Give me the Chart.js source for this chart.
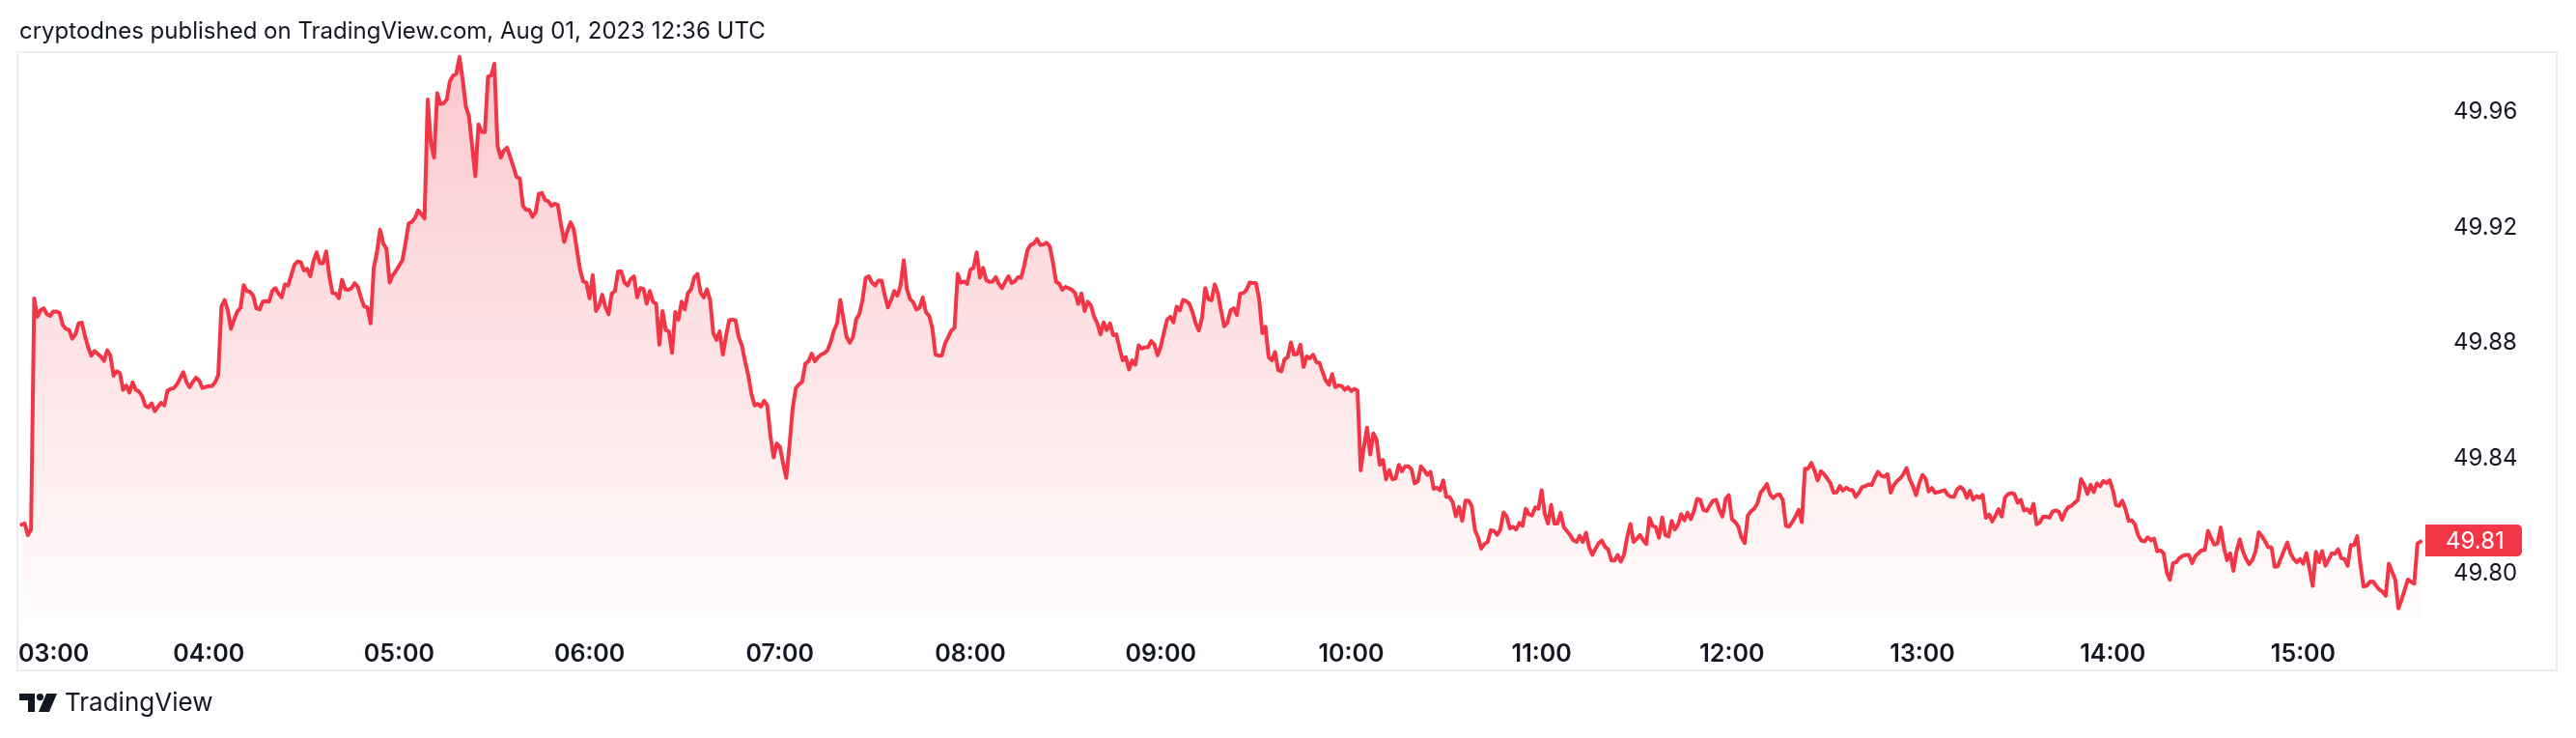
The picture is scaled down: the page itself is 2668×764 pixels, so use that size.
<!DOCTYPE html>
<html>
<head>
<meta charset="utf-8">
<title>TradingView snapshot</title>
<script src="https://cdn.jsdelivr.net/npm/chart.js@4.4.0/dist/chart.umd.min.js"></script>
<style>
    html, body { margin: 0; padding: 0; background: #fff; }
    body { width: 2668px; height: 764px; position: relative; overflow: hidden; font-family: Inter, "Noto Sans", sans-serif; color: #131722; }
    #chart { position: absolute; left: 0; top: 0; }
    #title { position: absolute; left: 20px; top: 20px; font-size: 24px; line-height: 24px; white-space: nowrap; }
    #logo-icon { position: absolute; left: 20px; top: 718px; }
    #logo-text { position: absolute; left: 67px; top: 714px; font-size: 26px; line-height: 26px; }
</style>
</head>
<body>
<canvas id="chart" width="2668" height="764"></canvas>
<div id="title">cryptodnes published on TradingView.com, Aug 01, 2023 12:36 UTC</div>
<svg id="logo-icon" width="39" height="19" viewBox="0 0 39 19">
    <path d="M0 0 H16 V19 H9 V7 H0 Z" fill="#131722"/>
    <circle cx="21.5" cy="3.6" r="3.6" fill="#131722"/>
    <path d="M28 0 H39 L31 19 H20 Z" fill="#131722"/>
</svg>
<div id="logo-text">TradingView</div>
<script>
// time axis: minutes after 03:00, one tick per hour
var hourTicks = [0, 60, 120, 180, 240, 300, 360, 420, 480, 540, 600, 660, 720];
var hourLabels = ['03:00', '04:00', '05:00', '06:00', '07:00', '08:00', '09:00', '10:00', '11:00', '12:00', '13:00', '14:00', '15:00'];
var priceTicks = [49.80, 49.84, 49.88, 49.92, 49.96];

// 1 minute closes
var minutes = [
    1, 2, 3, 4, 5, 6, 7, 8, 9, 10, 11, 12, 13, 14, 15, 16, 17, 18, 19, 20, 21, 22, 23, 24,
    26, 27, 28, 29, 30, 31, 32, 33, 34, 35, 36, 37, 38, 39, 40, 41, 42, 43, 44, 45, 46, 47, 48, 49, 50,
    52, 53, 54, 55, 56, 57, 58, 59, 60, 61, 62, 63, 64, 65, 66, 67, 68, 69, 70, 71,
    72, 73, 74, 75, 76, 77, 78, 79, 80, 81, 82, 83, 84, 85, 86, 87, 88, 89, 90, 91,
    92, 93, 94, 95, 96, 97, 98, 99, 100, 101, 102, 103, 104, 105, 106, 107, 108, 109, 110, 111,
    112, 113, 114, 115, 116, 117, 118, 119,
    121, 122, 123, 124, 125, 126, 127, 128, 129, 130, 131, 132, 133, 134, 135, 136, 137, 138, 139, 140, 141, 142,
    144, 145, 146, 147, 148, 149, 150, 151, 152, 153, 154, 155, 156, 157, 158, 159, 160, 161, 162, 163,
    164, 165, 166, 167, 168, 169, 170, 171, 172, 173, 174, 175, 176, 177, 178, 179, 180, 181, 182, 183,
    184, 185, 186, 187, 188, 189, 190, 191, 192, 193, 194, 195, 196, 197, 198, 199, 200, 201, 202, 203,
    204, 205, 206, 207, 208, 209, 210, 211, 212, 213, 214, 215, 216, 217, 218, 219, 220, 221, 222, 223,
    224, 225, 226, 227, 228, 229, 230, 231, 232, 233, 234, 235, 236, 237, 238, 239, 240, 241, 242, 243,
    244, 245, 246, 247, 248, 249, 250, 251, 252, 253, 254, 255, 256, 257, 258, 259, 260, 261, 262, 263,
    264, 265, 266, 267, 268, 269, 270, 271, 272, 273, 274, 275, 276, 277, 278, 279, 280, 281, 282, 283,
    284, 285, 286, 287, 288, 289, 290, 291, 292, 293, 294, 295, 296, 297, 298, 299, 300, 301, 302, 303,
    304, 305, 306, 307, 308, 309, 310, 311, 312, 313, 314, 315, 316, 317, 318, 319, 320, 321, 322, 323,
    324, 325, 326, 327, 328, 329, 330, 331, 332, 333, 334, 335, 336, 337, 338, 339, 340, 341, 342, 343,
    344, 345, 346, 347, 348, 349, 350, 351, 352, 353, 354, 355, 356, 357, 358, 359, 360, 361, 362, 363,
    364, 365, 366, 367, 368, 369, 370, 371, 372, 373, 374, 375, 376, 377, 378, 379, 380, 381, 382, 383,
    384, 385, 386, 387, 388, 389, 390, 391, 392, 393, 394, 395, 396, 397, 398, 399, 400, 401, 402, 403,
    404, 405, 406, 407, 408, 409, 410, 411, 412, 413, 414, 415, 416, 417, 418, 419, 420, 421, 422, 423,
    424, 425, 426, 427, 428, 429, 430, 431, 432, 433, 434, 435, 436, 437, 438, 439, 440, 441, 442, 443,
    444, 445, 446, 447, 448, 449, 450, 451, 452, 453, 454, 455, 456, 457, 458, 459, 460, 461, 462, 463,
    464, 465, 466, 467, 468, 469, 470, 471, 472, 473, 474, 475, 476, 477, 478, 479, 480, 481, 482, 483,
    484, 485, 486, 487, 488, 489, 490, 491, 492, 493, 494, 495, 496, 497, 498, 499, 500, 501, 502, 503,
    504, 505, 506, 507, 508, 509, 510, 511, 512, 513, 514, 515, 516, 517, 518, 519, 520, 521, 522, 523,
    524, 525, 526, 527, 528, 529, 530, 531, 532, 533, 534, 535, 536, 537, 538, 539, 540, 541, 542, 543,
    544, 545, 546, 547, 548, 549, 550, 551, 552, 553, 554, 555, 556, 557, 558, 559, 560, 561, 562, 563,
    564, 565, 566, 567, 568, 569, 570, 571, 572, 573, 574, 575, 576, 577, 578, 579, 580, 581, 582, 583,
    584, 585, 586, 587, 588, 589, 590, 591, 592, 593, 594, 595, 596, 597, 598, 599, 600, 601, 602, 603,
    604, 605, 606, 607, 608, 609, 610, 611, 612, 613, 614, 615, 616, 617, 618, 619, 620, 621, 622, 623,
    624, 625, 626, 627, 628, 629, 630, 631, 632, 633, 634, 635, 636, 637, 638, 639, 640, 641, 642, 643,
    644, 645, 646, 647, 648, 649, 650, 651, 652, 653, 654, 655, 656, 657, 658, 659, 660, 661, 662, 663,
    664, 665, 666, 667, 668, 669, 670, 671, 672, 673, 674, 675, 676, 677, 678, 679, 680, 681, 682, 683,
    684, 685, 686, 687, 688, 689, 690, 691, 692, 693, 694, 695, 696, 697, 698, 699, 700, 701, 702, 703,
    704, 705, 706, 707, 708, 709, 710, 711, 712, 713, 714, 715, 716, 717, 718, 719, 720, 721, 722, 723,
    724, 725, 726, 727, 728, 729, 730, 731, 732, 733, 734, 735, 736, 737, 738, 739, 740, 741, 742, 743,
    744, 745, 746, 747, 748, 749, 750, 751, 752, 753, 754, 755, 756, 757
];
var prices = [
    49.8171, 49.8175, 49.8135, 49.8154, 49.8954, 49.8891, 49.8913, 49.8920, 49.8900, 49.8894,
    49.8909, 49.8909, 49.8904, 49.8862, 49.8849, 49.8845, 49.8815, 49.8830, 49.8868, 49.8871,
    49.8824, 49.8785, 49.8756, 49.8772,
    49.8753, 49.8738, 49.8775, 49.8757, 49.8687, 49.8702, 49.8696, 49.8638, 49.8653, 49.8628,
    49.8664, 49.8638, 49.8632, 49.8616, 49.8583, 49.8577, 49.8591, 49.8564, 49.8580, 49.8593,
    49.8584, 49.8635, 49.8641, 49.8644, 49.8657,
    49.8699, 49.8664, 49.8647, 49.8666, 49.8680, 49.8670, 49.8644, 49.8648, 49.8651, 49.8651,
    49.8664, 49.8689, 49.8926, 49.8949, 49.8913, 49.8849, 49.8881, 49.8909, 49.8922, 49.9000,
    49.8980, 49.8977, 49.8964, 49.8920, 49.8916, 49.8943, 49.8945, 49.8943, 49.8980, 49.8990,
    49.8971, 49.8958, 49.9003, 49.8999, 49.9035, 49.9071, 49.9082, 49.9080, 49.9051, 49.9057,
    49.9031, 49.9083, 49.9114, 49.9076, 49.9076, 49.9117, 49.9032, 49.8973, 49.8971, 49.8955,
    49.9019, 49.8986, 49.8984, 49.8990, 49.9007, 49.8994, 49.8955, 49.8926, 49.8923, 49.8868,
    49.9060, 49.9114, 49.9192, 49.9144, 49.9127, 49.9009, 49.9035, 49.9050,
    49.9086, 49.9146, 49.9214, 49.9219, 49.9233, 49.9259, 49.9246, 49.9231, 49.9643, 49.9492,
    49.9442, 49.9665, 49.9627, 49.9630, 49.9643, 49.9707, 49.9726, 49.9732, 49.9790, 49.9713,
    49.9620, 49.9585,
    49.9377, 49.9557, 49.9531, 49.9530, 49.9722, 49.9726, 49.9767, 49.9483, 49.9442, 49.9466,
    49.9476, 49.9444, 49.9410, 49.9374, 49.9370, 49.9275, 49.9261, 49.9261, 49.9237, 49.9252,
    49.9316, 49.9319, 49.9295, 49.9291, 49.9275, 49.9282, 49.9278, 49.9210, 49.9150, 49.9188,
    49.9218, 49.9195, 49.9124, 49.9054, 49.9013, 49.9009, 49.8955, 49.9035, 49.8911, 49.8930,
    49.8967, 49.8924, 49.8900, 49.8971, 49.8980, 49.9048, 49.9048, 49.9009, 49.8999, 49.9022,
    49.9031, 49.8958, 49.8990, 49.8987, 49.8936, 49.8980, 49.8943, 49.8935, 49.8794, 49.8911,
    49.8845, 49.8840, 49.8766, 49.8907,
    49.8881, 49.8943, 49.8917, 49.8973, 49.8986, 49.9028, 49.9039, 49.8973, 49.8958, 49.8986,
    49.8948, 49.8833, 49.8811, 49.8840, 49.8760, 49.8824, 49.8879, 49.8881, 49.8879, 49.8820,
    49.8792, 49.8737, 49.8689, 49.8625, 49.8584, 49.8589, 49.8580, 49.8600, 49.8584, 49.8478,
    49.8404, 49.8452, 49.8440, 49.8382, 49.8333, 49.8446, 49.8574, 49.8644, 49.8657, 49.8666,
    49.8728, 49.8737, 49.8763, 49.8737, 49.8751, 49.8760, 49.8765, 49.8775, 49.8804, 49.8843,
    49.8868, 49.8949, 49.8884, 49.8820, 49.8801, 49.8820, 49.8881, 49.8900, 49.8948, 49.9025,
    49.9031, 49.9009, 49.8999, 49.9016, 49.9016, 49.8967, 49.8923, 49.8948, 49.8980, 49.8964,
    49.8999, 49.9086, 49.8986, 49.8952, 49.8941, 49.8916, 49.8922, 49.8958, 49.8907, 49.8894,
    49.8852, 49.8760, 49.8756, 49.8757, 49.8798, 49.8820, 49.8843, 49.8852, 49.9039, 49.9009,
    49.9013, 49.9005, 49.9054, 49.9060, 49.9114, 49.9026, 49.9060, 49.9018, 49.9012, 49.9013,
    49.9028, 49.9004, 49.8990, 49.9012, 49.9031, 49.9008, 49.9013, 49.9028, 49.9026, 49.9069,
    49.9122, 49.9140, 49.9144, 49.9160, 49.9140, 49.9141, 49.9147, 49.9135, 49.9080, 49.9012,
    49.9005, 49.8984, 49.8994, 49.8990, 49.8984, 49.8973, 49.8935, 49.8971, 49.8911, 49.8943,
    49.8930, 49.8891, 49.8868, 49.8830, 49.8871, 49.8845, 49.8868, 49.8827, 49.8830, 49.8783,
    49.8740, 49.8751, 49.8708, 49.8740, 49.8725, 49.8792, 49.8781, 49.8785, 49.8785, 49.8807,
    49.8795, 49.8757, 49.8788, 49.8836, 49.8881, 49.8891, 49.8871, 49.8926, 49.8913, 49.8949,
    49.8945, 49.8936, 49.8907, 49.8868, 49.8843, 49.8888, 49.8990, 49.8952, 49.8948, 49.9003,
    49.8971, 49.8913, 49.8858, 49.8871, 49.8913, 49.8920, 49.8897, 49.8971, 49.8973, 49.8984,
    49.9009, 49.9008, 49.9008,
    49.8952, 49.8834, 49.8856, 49.8751, 49.8740, 49.8769, 49.8706, 49.8702, 49.8743, 49.8751,
    49.8802, 49.8760, 49.8762, 49.8794, 49.8717, 49.8753, 49.8747, 49.8760, 49.8734, 49.8731,
    49.8699, 49.8670, 49.8655, 49.8692, 49.8647, 49.8653, 49.8651, 49.8638, 49.8647, 49.8634,
    49.8641, 49.8635, 49.8359, 49.8440, 49.8507, 49.8414, 49.8487, 49.8465, 49.8378, 49.8395,
    49.8328, 49.8360, 49.8328, 49.8331, 49.8378, 49.8356, 49.8373, 49.8373, 49.8363, 49.8314,
    49.8321, 49.8373, 49.8359, 49.8343, 49.8354, 49.8295, 49.8299, 49.8290, 49.8324, 49.8267,
    49.8267, 49.8248, 49.8200, 49.8232, 49.8184, 49.8254, 49.8254, 49.8235, 49.8152, 49.8126,
    49.8088, 49.8104, 49.8111, 49.8152, 49.8149, 49.8136, 49.8154, 49.8213, 49.8200, 49.8158,
    49.8164, 49.8154, 49.8177, 49.8167, 49.8226, 49.8207, 49.8203, 49.8231, 49.8226, 49.8290,
    49.8209, 49.8175, 49.8239, 49.8175, 49.8175, 49.8212, 49.8162, 49.8149, 49.8135, 49.8117,
    49.8111, 49.8132, 49.8111, 49.8143, 49.8092, 49.8066, 49.8088, 49.8107, 49.8116, 49.8094,
    49.8085, 49.8047, 49.8047, 49.8066, 49.8043, 49.8068, 49.8130, 49.8173, 49.8111, 49.8122,
    49.8135, 49.8117, 49.8104, 49.8194, 49.8167, 49.8162, 49.8126, 49.8196, 49.8135, 49.8130,
    49.8184, 49.8154, 49.8171, 49.8207, 49.8186, 49.8212, 49.8190, 49.8218, 49.8260, 49.8257,
    49.8222, 49.8218, 49.8237, 49.8254, 49.8257, 49.8222, 49.8199, 49.8260, 49.8273, 49.8190,
    49.8180, 49.8164, 49.8126, 49.8107, 49.8203, 49.8218, 49.8226, 49.8244, 49.8282, 49.8295,
    49.8312, 49.8276, 49.8263, 49.8273, 49.8276, 49.8257, 49.8167, 49.8164, 49.8180, 49.8199,
    49.8222, 49.8180, 49.8365, 49.8365, 49.8385, 49.8359, 49.8324, 49.8356, 49.8346, 49.8331,
    49.8315, 49.8282, 49.8283, 49.8305, 49.8289, 49.8299, 49.8292, 49.8290, 49.8267, 49.8282,
    49.8301, 49.8305, 49.8310, 49.8308, 49.8333, 49.8354, 49.8341, 49.8337, 49.8346, 49.8282,
    49.8308, 49.8322, 49.8331, 49.8346, 49.8367, 49.8328, 49.8305, 49.8273, 49.8314, 49.8343,
    49.8331, 49.8286,
    49.8298, 49.8281, 49.8284, 49.8287, 49.8291, 49.8274, 49.8268, 49.8268, 49.8294, 49.8302,
    49.8291, 49.8264, 49.8288, 49.8257, 49.8270, 49.8264, 49.8274, 49.8195, 49.8206, 49.8182,
    49.8202, 49.8225, 49.8199, 49.8264, 49.8277, 49.8280, 49.8277, 49.8247, 49.8257, 49.8220,
    49.8225, 49.8212, 49.8243, 49.8172, 49.8179, 49.8198, 49.8199, 49.8195, 49.8216, 49.8220,
    49.8216, 49.8188, 49.8216, 49.8232, 49.8236, 49.8247, 49.8257, 49.8329, 49.8309, 49.8277,
    49.8309, 49.8284, 49.8314, 49.8304, 49.8322, 49.8315, 49.8325, 49.8291, 49.8239, 49.8236,
    49.8254, 49.8225, 49.8184, 49.8186, 49.8171, 49.8134, 49.8116, 49.8113, 49.8127, 49.8117,
    49.8123, 49.8079, 49.8082, 49.8072, 49.8007, 49.7980, 49.8038, 49.8041, 49.8055, 49.8063,
    49.8066, 49.8066, 49.8038, 49.8062, 49.8072, 49.8083, 49.8083, 49.8150, 49.8123, 49.8102,
    49.8106, 49.8161, 49.8093, 49.8048, 49.8072, 49.8011, 49.8079, 49.8120, 49.8079, 49.8052,
    49.8034, 49.8049, 49.8079, 49.8145, 49.8131, 49.8113, 49.8093, 49.8093, 49.8025, 49.8027,
    49.8055, 49.8083, 49.8109, 49.8072, 49.8052, 49.8041, 49.8052, 49.8036, 49.8072, 49.8018,
    49.7959, 49.8077, 49.8041, 49.8079, 49.8029, 49.8049, 49.8072, 49.8070, 49.8086, 49.8055,
    49.8052, 49.8029, 49.8100, 49.8100, 49.8131, 49.8036, 49.7957, 49.7959, 49.7973, 49.7974,
    49.7959, 49.7946, 49.7939, 49.7925, 49.8036, 49.8008, 49.7981, 49.7881, 49.7911, 49.7946,
    49.7981, 49.7973, 49.7967, 49.8106, 49.8113
];

var RED = '#f23645';
var TEXT = '#131722';
Chart.defaults.font.family = "Inter, 'Noto Sans', sans-serif";

// white page + light frame round chart and time axis
var framePlugin = {
    id: 'frame',
    beforeDraw: function (chart) {
        var c = chart.ctx;
        c.save();
        c.fillStyle = '#ffffff';
        c.fillRect(0, 0, chart.width, chart.height);
        c.strokeStyle = '#ebedf3';
        c.lineWidth = 2;
        c.strokeRect(18, 54, 2630, 640);
        c.restore();
    }
};

// red tag with last price on the price scale
var lastPricePlugin = {
    id: 'lastPrice',
    afterDraw: function (chart) {
        var c = chart.ctx;
        var last = prices[prices.length - 1];
        var y = chart.scales.y.getPixelForValue(last);
        var left = chart.chartArea.right;
        c.save();
        c.fillStyle = RED;
        c.beginPath();
        c.roundRect(left, Math.round(y) - 17, 100, 33, [0, 5, 5, 0]);
        c.fill();
        c.fillStyle = '#ffffff';
        c.font = "24px Inter, 'Noto Sans', sans-serif";
        c.textAlign = 'left';
        c.textBaseline = 'middle';
        c.fillText(last.toFixed(2), left + 21, y);
        c.restore();
    }
};

new Chart(document.getElementById('chart'), {
    type: 'line',
    data: {
        datasets: [{
            data: minutes.map(function (m, i) { return {x: m, y: prices[i]}; }),
            borderColor: RED,
            borderWidth: 4,
            borderJoinStyle: 'round',
            borderCapStyle: 'round',
            pointRadius: 0,
            tension: 0,
            fill: 'start',
            backgroundColor: function (ctx) {
                var area = ctx.chart.chartArea;
                if (!area) return 'rgba(242,54,69,0.15)';
                var g = ctx.chart.ctx.createLinearGradient(0, area.top, 0, area.bottom);
                g.addColorStop(0, 'rgba(242,54,69,0.28)');
                g.addColorStop(1, 'rgba(242,54,69,0.01)');
                return g;
            }
        }]
    },
    options: {
        responsive: false,
        animation: false,
        devicePixelRatio: 1,
        layout: {padding: {left: 19, right: 20, top: 54, bottom: 70}},
        plugins: {legend: {display: false}, tooltip: {enabled: false}},
        scales: {
            x: {
                type: 'linear',
                min: 0,
                max: 758.5,
                afterBuildTicks: function (s) {
                    // extra hidden tick so that 'inner' only pins the first label
                    s.ticks = hourTicks.concat([780]).map(function (v) { return {value: v}; });
                },
                afterFit: function (s) { s.height = 51; },
                ticks: {
                    autoSkip: false,
                    maxRotation: 0,
                    minRotation: 0,
                    align: 'inner',
                    padding: 11,
                    color: TEXT,
                    font: {size: 25, weight: '600'},
                    callback: function (v) {
                        var i = hourTicks.indexOf(v);
                        return i < 0 ? '' : hourLabels[i];
                    }
                },
                grid: {display: false},
                border: {display: false}
            },
            y: {
                position: 'right',
                min: 49.7837,
                max: 49.9807,
                afterBuildTicks: function (s) {
                    s.ticks = priceTicks.map(function (v) { return {value: v}; });
                },
                afterFit: function (s) { s.width = 136; },
                ticks: {
                    padding: 21,
                    color: TEXT,
                    font: {size: 24},
                    callback: function (v) { return v.toFixed(2); }
                },
                grid: {display: false},
                border: {display: false}
            }
        }
    },
    plugins: [framePlugin, lastPricePlugin]
});
</script>
</body>
</html>
